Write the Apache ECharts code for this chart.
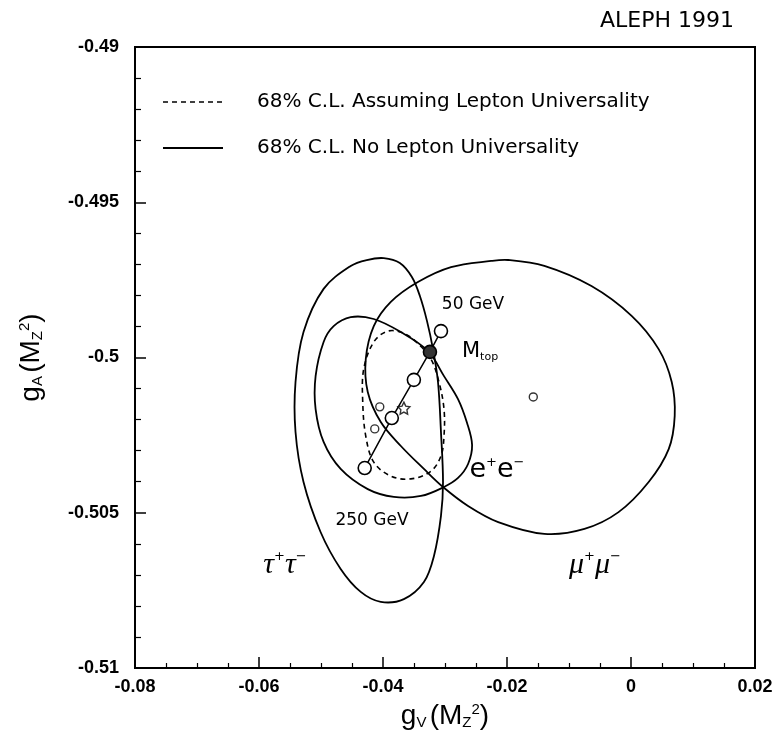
<!DOCTYPE html>
<html>
<head>
<meta charset="utf-8">
<script src="https://cdn.jsdelivr.net/npm/echarts@6/dist/echarts.min.js"></script>
<style>
html, body { margin: 0; padding: 0; background: #fff; }
#main { width: 777px; height: 738px; }
</style>
</head>
<body>
<div id="main"></div>
<script>
// axis ticks
var xTickLabels = ['-0.08', '-0.06', '-0.04', '-0.02', '0', '0.02'];
var yTickLabels = ['-0.51', '-0.505', '-0.5', '-0.495', '-0.49'];

// 68% C.L. contours [gV, gA] (closed loops)
var tauContour = [
    [-0.03065, -0.50240], [-0.03032, -0.50401], [-0.03065, -0.50510], [-0.03178, -0.50639],
    [-0.03340, -0.50723], [-0.03663, -0.50778], [-0.04036, -0.50787], [-0.04359, -0.50755],
    [-0.04683, -0.50681], [-0.05007, -0.50562], [-0.05282, -0.50401], [-0.05411, -0.50240],
    [-0.05411, -0.50079], [-0.05282, -0.49918], [-0.04958, -0.49779], [-0.04521, -0.49705],
    [-0.04262, -0.49686], [-0.03987, -0.49680], [-0.03728, -0.49696], [-0.03534, -0.49741],
    [-0.03405, -0.49802], [-0.03291, -0.49882], [-0.03194, -0.49973], [-0.03113, -0.50079]
];
var muContour = [
    [-0.01398, -0.50568], [-0.00751, -0.50552], [-0.00201, -0.50498], [0.00285, -0.50401],
    [0.00608, -0.50295], [0.00705, -0.50188], [0.00657, -0.50079], [0.00446, -0.49973],
    [0.00010, -0.49866], [-0.00638, -0.49770], [-0.01398, -0.49705], [-0.01981, -0.49686],
    [-0.02256, -0.49689], [-0.02903, -0.49709], [-0.03437, -0.49757], [-0.03874, -0.49821],
    [-0.04149, -0.49899], [-0.04278, -0.50005], [-0.04246, -0.50111], [-0.04036, -0.50208],
    [-0.03712, -0.50285], [-0.03340, -0.50359], [-0.03032, -0.50417], [-0.02628, -0.50478],
    [-0.02142, -0.50530]
];
var eeContour = [
    [-0.05087, -0.50166], [-0.05087, -0.50060], [-0.04958, -0.49950], [-0.04796, -0.49899],
    [-0.04521, -0.49870], [-0.04149, -0.49876], [-0.03712, -0.49918], [-0.03275, -0.49979],
    [-0.03016, -0.50060], [-0.02790, -0.50134], [-0.02644, -0.50211], [-0.02563, -0.50282],
    [-0.02628, -0.50343], [-0.02790, -0.50388], [-0.03016, -0.50417], [-0.03388, -0.50446],
    [-0.03825, -0.50449], [-0.04246, -0.50424], [-0.04683, -0.50359], [-0.04958, -0.50272]
];
var universalContour = [
    [-0.04327, -0.50143], [-0.04311, -0.50037], [-0.04149, -0.49950], [-0.03922, -0.49915],
    [-0.03663, -0.49922], [-0.03437, -0.49955], [-0.03227, -0.50005], [-0.03097, -0.50079],
    [-0.03016, -0.50166], [-0.03016, -0.50253], [-0.03065, -0.50317], [-0.03227, -0.50366],
    [-0.03550, -0.50391], [-0.03874, -0.50382], [-0.04149, -0.50337], [-0.04278, -0.50253]
];

// Standard Model prediction vs M_top, 250 GeV -> 50 GeV
var mtopPoints = [
    [-0.04295, -0.50356], [-0.03858, -0.50195], [-0.03502, -0.50072], [-0.03243, -0.49982], [-0.03065, -0.49915]
];
// central values
var leptonCenters = [[-0.04052, -0.50159], [-0.04133, -0.50230], [-0.01576, -0.50127]];
var combinedCenter = [[-0.03663, -0.50163]];

var nameUniv = '68% C.L. Assuming Lepton Universality';
var nameNoUniv = '68% C.L. No Lepton Universality';

var xMin = -0.08, xStep = 0.02, yMin = -0.51, yStep = 0.005;

var myChart = echarts.init(document.getElementById('main'));

// closed smooth contour through the traced points
function contour(name, data, dash) {
    return {
        name: name,
        type: 'custom',
        coordinateSystem: 'cartesian2d',
        data: data,
        silent: true,
        z: 3,
        renderItem: function (params, api) {
            if (params.dataIndex !== 0) return;
            var pts = data.map(function (p) { return api.coord(p); });
            return {
                type: 'polygon',
                shape: { points: pts, smooth: 0.35 },
                style: { fill: 'none', stroke: '#000', lineWidth: dash ? 1.6 : 1.8, lineDash: dash || null }
            };
        }
    };
}

var axisNameRich = {
    a: { fontFamily: 'Liberation Sans', fontSize: 28, color: '#000' },
    s: { fontFamily: 'Liberation Sans', fontSize: 15, color: '#000', verticalAlign: 'bottom', lineHeight: 15 },
    p: { fontFamily: 'Liberation Sans', fontSize: 15, color: '#000', verticalAlign: 'top', lineHeight: 15 }
};

var option = {
    backgroundColor: '#fff',
    animation: false,
    grid: {
        left: 135,
        right: 22,
        top: 47,
        bottom: 70,
        show: true,
        borderColor: '#000',
        borderWidth: 2,
        outerBoundsMode: 'none'
    },
    xAxis: {
        type: 'value',
        min: xMin,
        max: 0.02,
        interval: xStep,
        axisLine: { onZero: false, lineStyle: { color: '#000', width: 2 } },
        axisTick: { inside: true, length: 11, lineStyle: { color: '#000', width: 1.5 } },
        minorTick: { show: true, splitNumber: 4, length: 5, lineStyle: { color: '#000', width: 1.2 } },
        splitLine: { show: false },
        axisLabel: {
            color: '#000', fontSize: 18, fontWeight: 'bold', fontFamily: 'Liberation Sans', margin: 10,
            formatter: function (v) { return xTickLabels[Math.round((v - xMin) / xStep)]; }
        },
        name: '{a|g}{s|V} {a|(M}{s|Z}{p|2}{a|)}',
        nameLocation: 'middle',
        nameGap: 34,
        nameTextStyle: { rich: axisNameRich }
    },
    yAxis: {
        type: 'value',
        min: yMin,
        max: -0.49,
        interval: yStep,
        axisLine: { onZero: false, lineStyle: { color: '#000', width: 2 } },
        axisTick: { inside: true, length: 11, lineStyle: { color: '#000', width: 1.5 } },
        minorTick: { show: true, splitNumber: 5, length: 6, lineStyle: { color: '#000', width: 1.2 } },
        splitLine: { show: false },
        axisLabel: {
            color: '#000', fontSize: 18, fontWeight: 'bold', fontFamily: 'Liberation Sans', margin: 16,
            formatter: function (v) { return yTickLabels[Math.round((v - yMin) / yStep)]; }
        },
        name: '{a|g}{s|A} {a|(M}{s|Z}{p|2}{a|)}',
        nameLocation: 'middle',
        nameRotate: 90,
        nameGap: 90,
        nameTextStyle: { rich: axisNameRich }
    },
    series: [
        contour(nameUniv, universalContour, [5, 4]),
        contour(nameNoUniv, tauContour),
        contour(nameNoUniv, muContour),
        contour(nameNoUniv, eeContour),
        {
            type: 'line',
            data: mtopPoints.map(function (p, i) {
                return i === 3 ? { value: p, itemStyle: { color: '#333', borderColor: '#000' } } : p;
            }),
            symbol: 'circle',
            symbolSize: 13,
            itemStyle: { color: '#fff', borderColor: '#000', borderWidth: 1.6 },
            lineStyle: { color: '#000', width: 1.5 },
            silent: true,
            z: 4
        },
        {
            type: 'scatter',
            data: leptonCenters,
            symbol: 'circle',
            symbolSize: 8,
            itemStyle: { color: '#fff', borderColor: '#000', borderWidth: 1.4 },
            silent: true,
            z: 5
        },
        {
            type: 'scatter',
            data: combinedCenter,
            symbol: 'path://M0,-10L2.9,-4L9.5,-3.1L4.8,1.5L5.9,8.1L0,5L-5.9,8.1L-4.8,1.5L-9.5,-3.1L-2.9,-4Z',
            symbolSize: 12,
            itemStyle: { color: '#fff', borderColor: '#000', borderWidth: 1.4 },
            silent: true,
            z: 5
        }
    ],
    graphic: [
        // key
        {
            type: 'line', shape: { x1: 163, y1: 102, x2: 223, y2: 102 },
            style: { stroke: '#000', lineWidth: 1.6, lineDash: [5, 4] }
        },
        {
            type: 'text', x: 257, y: 102,
            style: { text: nameUniv, fontFamily: 'DejaVu Sans', fontSize: 20, fill: '#000',
                align: 'left', verticalAlign: 'middle' }
        },
        {
            type: 'line', shape: { x1: 163, y1: 148, x2: 223, y2: 148 },
            style: { stroke: '#000', lineWidth: 1.8 }
        },
        {
            type: 'text', x: 257, y: 148,
            style: { text: nameNoUniv, fontFamily: 'DejaVu Sans', fontSize: 20, fill: '#000',
                align: 'left', verticalAlign: 'middle' }
        },
        {
            type: 'text', x: 734, y: 21,
            style: { text: 'ALEPH 1991', fontFamily: 'DejaVu Sans', fontSize: 22, fill: '#000',
                align: 'right', verticalAlign: 'middle' }
        },
        {
            type: 'text', x: 473, y: 305,
            style: { text: '50 GeV', fontFamily: 'DejaVu Sans', fontSize: 17, fill: '#000',
                align: 'center', verticalAlign: 'middle' }
        },
        {
            type: 'text', x: 372, y: 521,
            style: { text: '250 GeV', fontFamily: 'DejaVu Sans', fontSize: 17, fill: '#000',
                align: 'center', verticalAlign: 'middle' }
        },
        {
            type: 'text', x: 462, y: 352,
            style: {
                text: '{m|M}{s|top}', align: 'left', verticalAlign: 'middle',
                rich: {
                    m: { fontFamily: 'DejaVu Sans', fontSize: 21, fill: '#000' },
                    s: { fontFamily: 'DejaVu Sans', fontSize: 11, fill: '#000', verticalAlign: 'bottom', lineHeight: 11 }
                }
            }
        },
        {
            type: 'text', x: 497, y: 470,
            style: {
                text: '{e|e}{p|+}{e|e}{p|\u2212}', align: 'center', verticalAlign: 'middle',
                rich: {
                    e: { fontFamily: 'DejaVu Sans', fontSize: 27, fill: '#000' },
                    p: { fontFamily: 'DejaVu Sans', fontSize: 13, fill: '#000', verticalAlign: 'top', lineHeight: 13 }
                }
            }
        },
        {
            type: 'text', x: 285, y: 565,
            style: {
                text: '{t|\u03c4}{p|+}{t|\u03c4}{p|\u2212}', align: 'center', verticalAlign: 'middle',
                rich: {
                    t: { fontFamily: 'Liberation Serif', fontStyle: 'italic', fontSize: 30, fill: '#000' },
                    p: { fontFamily: 'DejaVu Sans', fontSize: 13, fill: '#000', verticalAlign: 'top', lineHeight: 13 }
                }
            }
        },
        {
            type: 'text', x: 595, y: 565,
            style: {
                text: '{t|\u03bc}{p|+}{t|\u03bc}{p|\u2212}', align: 'center', verticalAlign: 'middle',
                rich: {
                    t: { fontFamily: 'Liberation Serif', fontStyle: 'italic', fontSize: 30, fill: '#000' },
                    p: { fontFamily: 'DejaVu Sans', fontSize: 13, fill: '#000', verticalAlign: 'top', lineHeight: 13 }
                }
            }
        }
    ]
};
myChart.setOption(option);
</script>
</body>
</html>
